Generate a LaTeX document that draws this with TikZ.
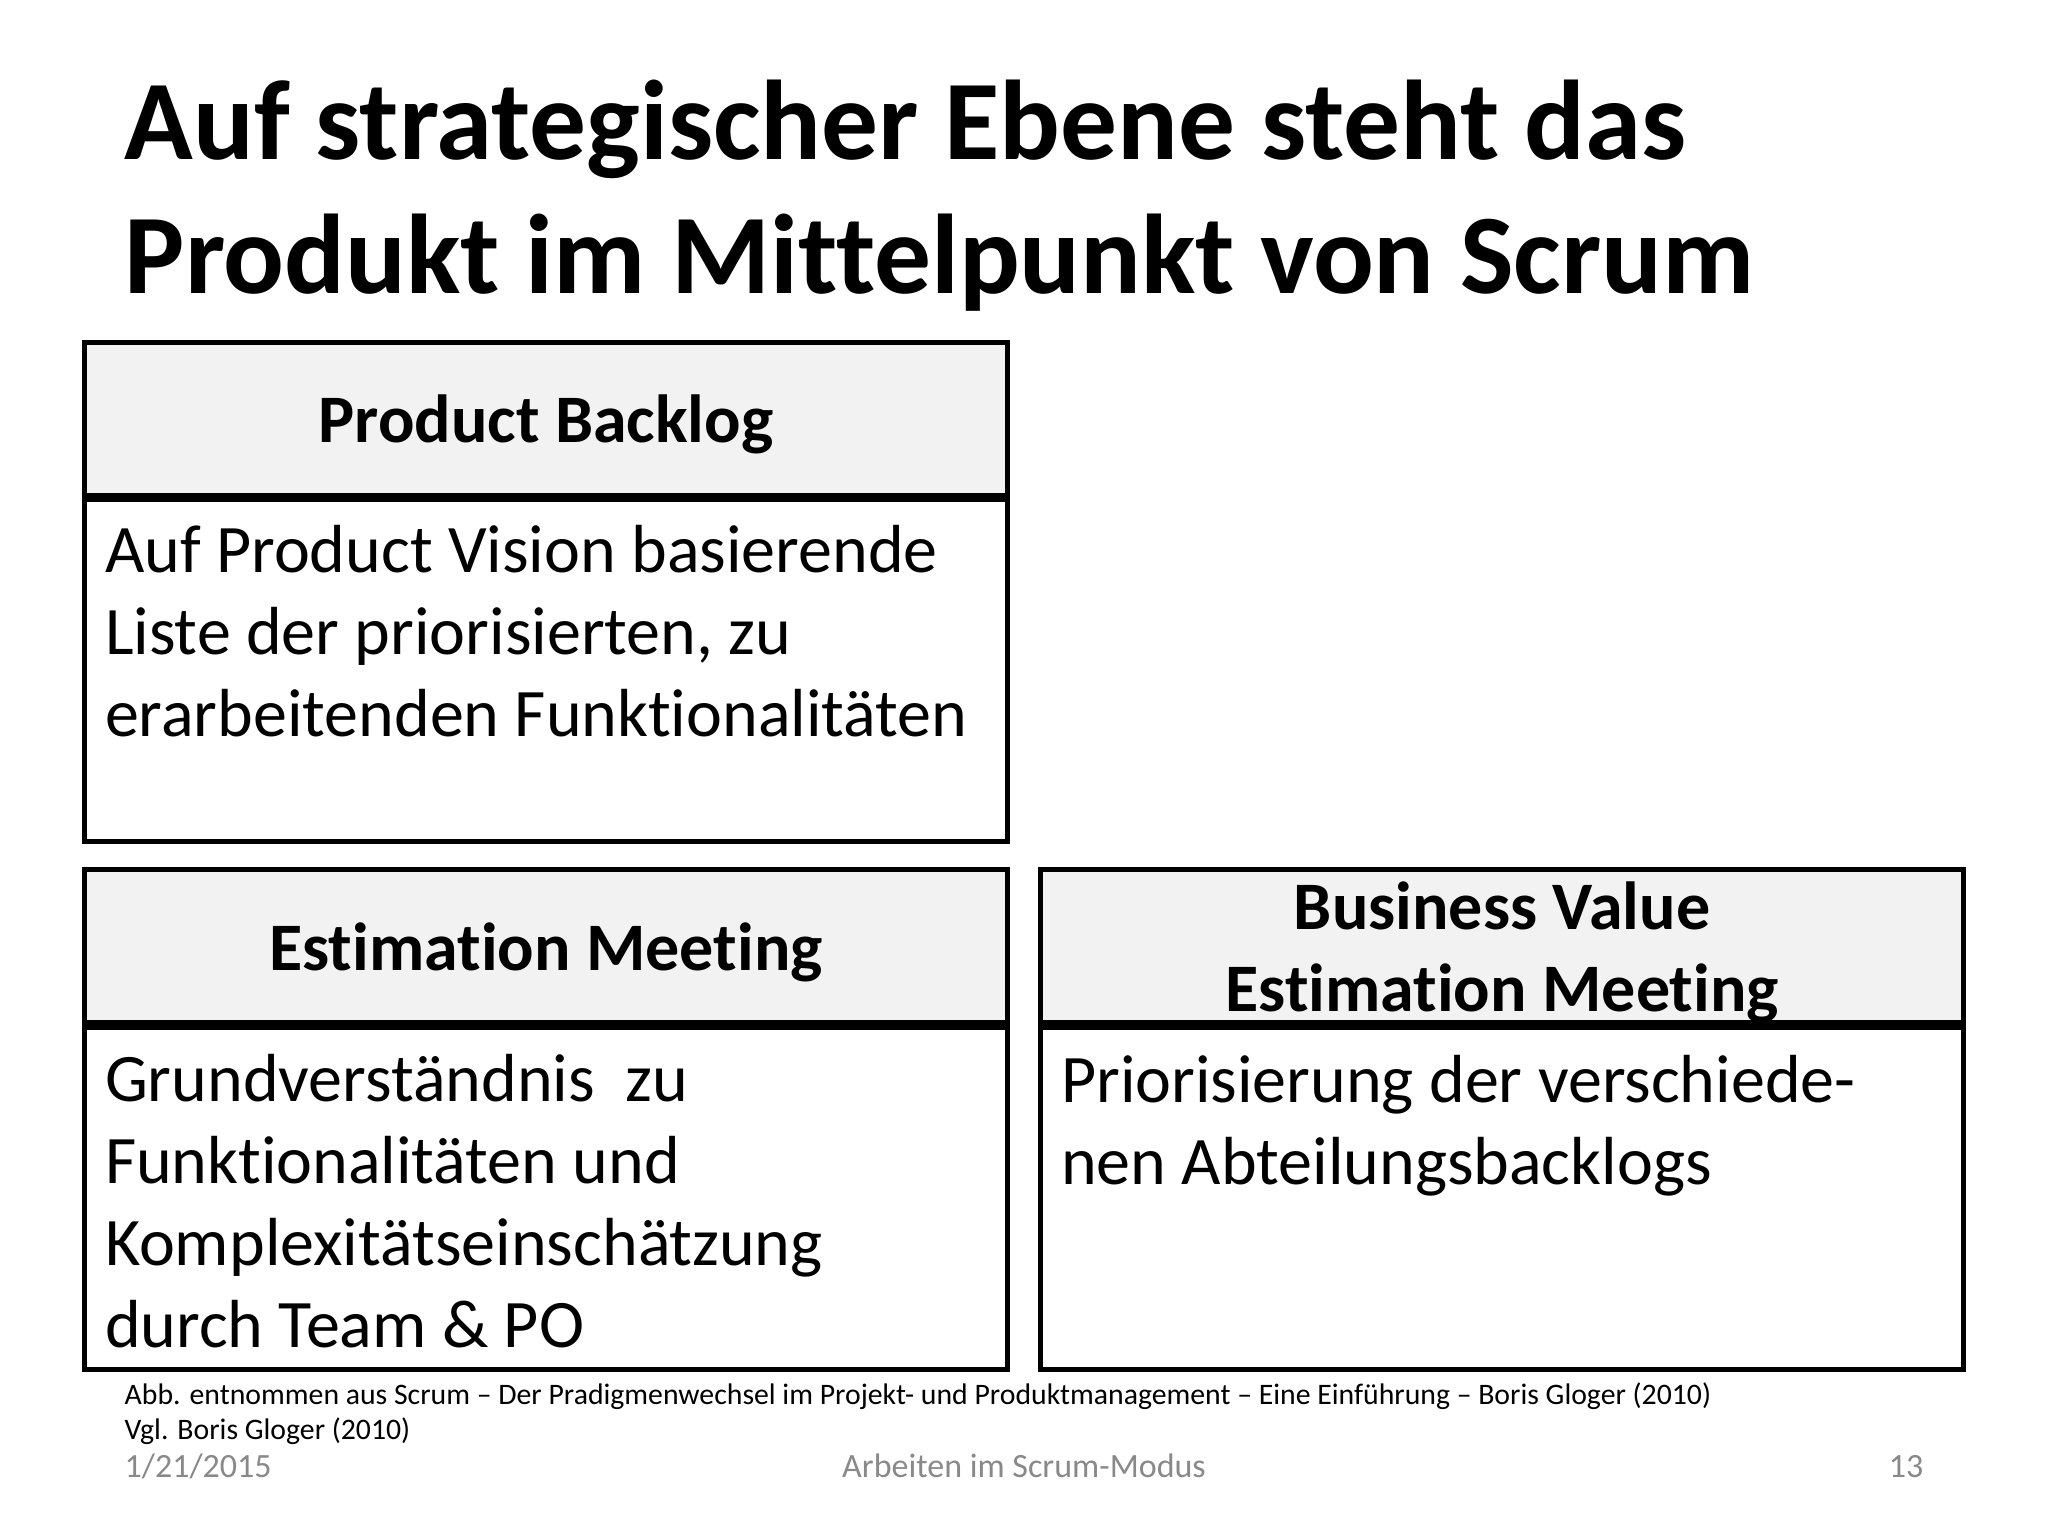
\documentclass[tikz,border=0pt]{standalone}
\usepackage{fontspec}
\setmainfont{Carlito}[Ligatures=NoCommon]
\usepackage{tikz}
\usetikzlibrary{positioning}
\definecolor{headgray}{HTML}{F2F2F2}
\definecolor{footgray}{HTML}{898989}

\begin{document}
\begin{tikzpicture}
  [head/.style={rectangle,draw=black,line width=1.75pt,fill=headgray,inner sep=0pt,text depth=0pt,minimum width=11.44cm,minimum height=1.895cm,align=center,font=\bfseries\fontsize{24}{29}\selectfont},
  panel/.style={rectangle,draw=black,line width=1.75pt,minimum width=11.44cm,minimum height=4.24cm},
  bodytext/.style={anchor=base west,inner sep=0pt,align=left,font=\fontsize{24}{29}\selectfont},
  foot/.style={inner sep=0pt,font=\fontsize{12}{14}\selectfont,text=footgray}]

\useasboundingbox (0,0) rectangle (25.4,-19.05);

% Title
\node[anchor=base west,inner sep=0pt,align=left,font=\bfseries\fontsize{40}{47.3}\selectfont] (title) at (1.54,-3.645) {Auf strategischer Ebene steht das\\Produkt im Mittelpunkt von Scrum};

% Product Backlog
\node[head] (pbhead) at (6.771,-5.192) {Product Backlog};
\node[panel,below=0pt of pbhead] (pbbox) {};
\node[bodytext] (pbtext) at ([shift={(0.275,-2.964)}]pbbox.north west) {Auf Product Vision basierende\\Liste der priorisierten, zu\\erarbeitenden Funktionalitäten};

% Estimation Meeting
\node[head] (emhead) at (6.771,-11.736) {Estimation Meeting};
\node[panel,below=0pt of emhead] (embox) {};
\node[bodytext] (emtext) at ([shift={(0.275,-4.001)}]embox.north west) {Grundverständnis\ \ zu\\Funktionalitäten und\\Komplexitätseinschätzung\\durch Team \& PO};

% Business Value Estimation Meeting
\node[head] (bvhead) at (18.629,-11.736) {Business Value\\Estimation Meeting};
\node[panel,below=0pt of bvhead] (bvbox) {};
\node[bodytext] (bvtext) at ([shift={(0.275,-1.976)}]bvbox.north west) {Priorisierung der verschiede-\\nen Abteilungsbacklogs};

% Source and footer
\node[anchor=base west,inner sep=0pt,align=left,font=\fontsize{10.5}{12.4}\selectfont] (source) at (1.54,-17.85) {Abb. entnommen aus Scrum – Der Pradigmenwechsel im Projekt- und Produktmanagement – Eine Einführung – Boris Gloger (2010)\\Vgl. Boris Gloger (2010)};
\node[foot,anchor=base west] (date) at (1.54,-18.32) {1/21/2015};
\node[foot,anchor=base] (topic) at (12.70,-18.32) {Arbeiten im Scrum-Modus};
\node[foot,anchor=base east] (page) at (23.86,-18.32) {13};

\end{tikzpicture}
\end{document}
